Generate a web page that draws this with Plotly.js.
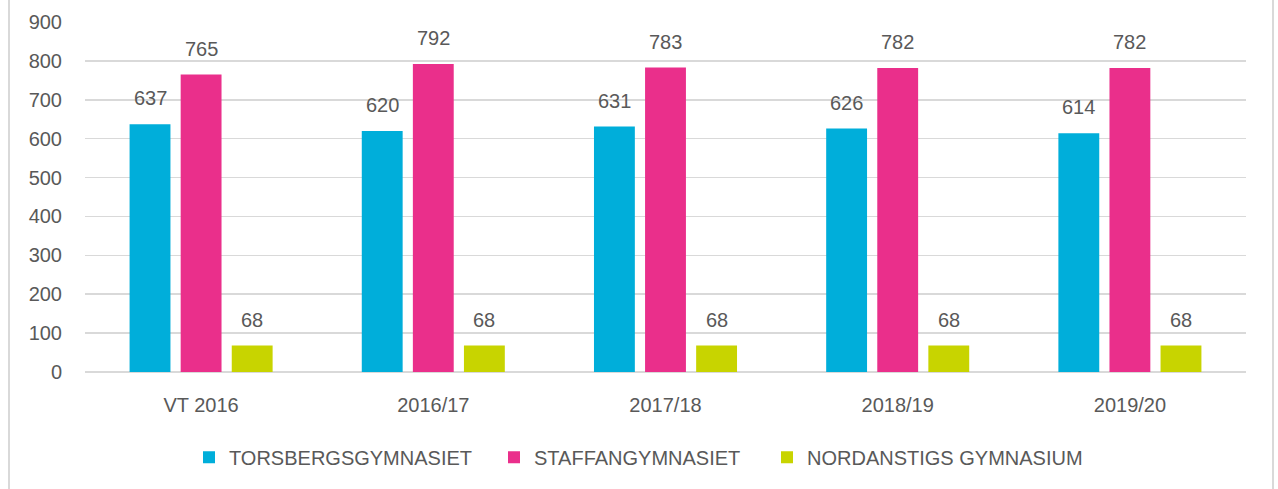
<!DOCTYPE html>
<html>
<head>
<meta charset="utf-8">
<script src="https://cdn.plot.ly/plotly-3.0.1.min.js"></script>
<style>
  html, body { margin: 0; padding: 0; background: #ffffff; overflow: hidden; }
  #wrap { position: relative; width: 1278px; height: 489px; }
  #chart { position: absolute; left: 0; top: 0; width: 1278px; height: 489px; }
  #frame { position: absolute; left: 8px; top: -3px; width: 1266px; height: 495px;
           border-left: 2px solid #d9d9d9; border-right: 2px solid #d9d9d9;
           box-sizing: border-box; pointer-events: none; }
</style>
</head>
<body>
<div id="wrap">
  <div id="chart"></div>
  <div id="frame"></div>
</div>
<script>
const categories = ["VT 2016", "2016/17", "2017/18", "2018/19", "2019/20"];
const seriesNames = ["TORSBERGSGYMNASIET", "STAFFANGYMNASIET", "NORDANSTIGS GYMNASIUM"];
const torsberg = [637, 620, 631, 626, 614];
const staffan = [765, 792, 783, 782, 782];
const nordanstig = [68, 68, 68, 68, 68];
const colors = ["#00AEDA", "#EA2F8B", "#C8D400"];
const yTicks = [0, 100, 200, 300, 400, 500, 600, 700, 800, 900];

const allSeries = [torsberg, staffan, nordanstig];
const textColor = "#595959";
const fontFamily = "Liberation Sans, Arial, sans-serif";
const legendIds = ["legend", "legend2", "legend3"];
const legendLeft = [189, 494, 767]; // px from left of page

const traces = allSeries.map((vals, i) => ({
  type: "bar",
  name: seriesNames[i],
  x: categories,
  y: vals,
  marker: { color: colors[i] },
  legend: legendIds[i],
  hoverinfo: "x+y+name"
}));

// data labels above bars via annotations, offset per series within the group
const xShifts = [-51, 0, 51];
const annotations = [];
allSeries.forEach((vals, i) => {
  vals.forEach((v, j) => {
    annotations.push({
      x: categories[j], y: v, xref: "x", yref: "y",
      text: String(v), showarrow: false,
      xshift: xShifts[i], yshift: 26, yanchor: "middle",
      font: { family: fontFamily, size: 20, color: textColor }
    });
  });
});

const layout = {
  width: 1278, height: 489,
  margin: { l: 85, r: 32, t: 22, b: 117, pad: 0 },
  paper_bgcolor: "#ffffff", plot_bgcolor: "#ffffff",
  barmode: "group", bargap: 0.34, bargroupgap: 0.2,
  font: { family: fontFamily, size: 20, color: textColor },
  xaxis: {
    type: "category",
    showgrid: false, zeroline: false, showline: false,
    ticks: "", tickfont: { family: fontFamily, size: 20, color: textColor },
    ticklabelstandoff: 19
  },
  yaxis: {
    range: [0, 900], tickvals: yTicks, ticktext: yTicks.map(String),
    showgrid: true, gridcolor: "#d9d9d9", gridwidth: 1.5,
    zeroline: true, zerolinecolor: "#d9d9d9", zerolinewidth: 2,
    showline: false, ticks: "",
    ticklabelstandoff: 22,
    tickfont: { family: fontFamily, size: 20, color: textColor }
  },
  showlegend: true,
  annotations: annotations
};

legendIds.forEach((id, i) => {
  layout[id] = {
    orientation: "h", xref: "container", yref: "container",
    x: legendLeft[i] / 1278, xanchor: "left", y: 0.065, yanchor: "middle",
    font: { family: fontFamily, size: 20, color: textColor },
    itemwidth: 30, bgcolor: "rgba(0,0,0,0)", borderwidth: 0
  };
});

Plotly.newPlot("chart", traces, layout, { displayModeBar: false, staticPlot: true });
</script>
</body>
</html>
